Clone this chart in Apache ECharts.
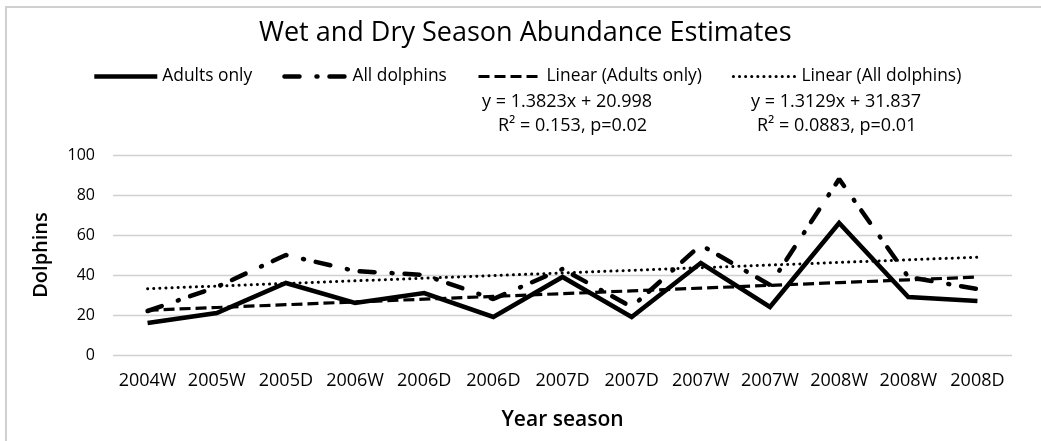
<!DOCTYPE html>
<html>
<head>
<meta charset="utf-8">
<script src="https://cdn.jsdelivr.net/npm/echarts@6/dist/echarts.min.js"></script>
<style>
  html, body { margin: 0; padding: 0; background: #fff; }
  #chart { width: 1041px; height: 441px; }
</style>
</head>
<body>
<div id="chart"></div>
<script>
// Survey periods (year + W = wet season, D = dry season)
const categories = ['2004W', '2005W', '2005D', '2006W', '2006D', '2006D', '2007D', '2007D', '2007W', '2007W', '2008W', '2008W', '2008D'];

// Abundance estimates per survey
const adultsOnly = [16, 21, 36, 26, 31, 19, 39, 19, 46, 24, 66, 29, 27];
const allDolphins = [22, 34, 50, 42, 40, 28, 43, 24, 55, 35, 88, 39, 33];

// Least-squares fits reported for each series (x = survey number, 1..13)
const fitAdults = { slope: 1.3823, intercept: 20.998, r2: '0.153', p: '0.02' };
const fitAll = { slope: 1.3129, intercept: 31.837, r2: '0.0883', p: '0.01' };

const yTicks = { min: 0, max: 100, interval: 20 };

const FONT = 'Open Sans';

// Line styles shared by the series and their legend entries
const styles = {
  adults: { color: '#000', width: 4.6, type: 'solid', join: 'miter' },
  all: { color: '#000', width: 4.5, type: [15, 17, 1, 12], cap: 'round' },
  linAdults: { color: '#000', width: 3.2, type: [11, 5] },
  linAll: { color: '#000', width: 3, type: [0.1, 6], cap: 'round' }
};

function trend(fit) {
  return categories.map((_, i) => +(fit.slope * (i + 1) + fit.intercept).toFixed(3));
}
function eqText(fit) {
  return 'y = ' + fit.slope + 'x + ' + fit.intercept.toFixed(3);
}
function r2Text(fit) {
  return 'R\u00B2 = ' + fit.r2 + ', p=' + fit.p;
}

const chart = echarts.init(document.getElementById('chart'), null, { renderer: 'canvas' });

const option = {
  backgroundColor: '#fff',
  animation: false,
  title: {
    text: 'Wet and Dry Season Abundance Estimates',
    left: 254,
    top: 15,
    textStyle: { fontFamily: FONT, fontSize: 27, fontWeight: 'normal', color: '#000' }
  },
  legend: {
    left: 87,
    top: 63,
    itemWidth: 63,
    itemHeight: 14,
    itemGap: 30,
    // hide the marker glyph so only the line pattern shows
    itemStyle: { color: 'rgba(0,0,0,0)', borderWidth: 0, opacity: 0 },
    textStyle: { fontFamily: FONT, fontSize: 17.4, color: '#000' },
    data: [
      { name: 'Adults only', lineStyle: styles.adults },
      { name: 'All dolphins', lineStyle: styles.all },
      { name: 'Linear (Adults only)', lineStyle: styles.linAdults },
      { name: 'Linear (All dolphins)', lineStyle: styles.linAll }
    ]
  },
  grid: { left: 113, right: 29, top: 155, bottom: 86, containLabel: false },
  xAxis: {
    type: 'category',
    data: categories,
    boundaryGap: true,
    axisLine: { show: false },
    axisTick: { show: false },
    axisLabel: { fontFamily: FONT, fontSize: 18, color: '#000', margin: 17, interval: 0 },
    name: 'Year season',
    nameLocation: 'middle',
    nameGap: 55,
    nameTextStyle: { fontFamily: FONT, fontSize: 21, fontWeight: 600, color: '#000' }
  },
  yAxis: {
    type: 'value',
    min: yTicks.min,
    max: yTicks.max,
    interval: yTicks.interval,
    axisLine: { show: false },
    axisTick: { show: false },
    splitLine: { lineStyle: { color: '#d0d0d0', width: 1.4 } },
    axisLabel: { fontFamily: FONT, fontSize: 16, color: '#000', margin: 18 },
    name: 'Dolphins',
    nameLocation: 'middle',
    nameGap: 62,
    nameRotate: 90,
    nameTextStyle: { fontFamily: FONT, fontSize: 20, fontWeight: 600, color: '#000' }
  },
  graphic: [
    // chart frame edge along top and left
    { type: 'rect', shape: { x: 6, y: 7, width: 1100, height: 500 }, style: { fill: 'none', stroke: '#d0d0d0', lineWidth: 2 }, silent: true },
    { type: 'text', left: 482, top: 93, style: { text: eqText(fitAdults), fontFamily: FONT, fontSize: 18, fill: '#000' } },
    { type: 'text', left: 498, top: 117, style: { text: r2Text(fitAdults), fontFamily: FONT, fontSize: 18, fill: '#000' } },
    { type: 'text', left: 751, top: 93, style: { text: eqText(fitAll), fontFamily: FONT, fontSize: 18, fill: '#000' } },
    { type: 'text', left: 757, top: 117, style: { text: r2Text(fitAll), fontFamily: FONT, fontSize: 18, fill: '#000' } }
  ],
  series: [
    {
      name: 'Adults only',
      type: 'line',
      data: adultsOnly,
      symbol: 'none',
      z: 5,
      lineStyle: styles.adults,
      itemStyle: { color: '#000' }
    },
    {
      name: 'All dolphins',
      type: 'line',
      data: allDolphins,
      symbol: 'none',
      z: 4,
      lineStyle: styles.all,
      itemStyle: { color: '#000' }
    },
    {
      name: 'Linear (Adults only)',
      type: 'line',
      data: trend(fitAdults),
      symbol: 'none',
      z: 3,
      lineStyle: styles.linAdults,
      itemStyle: { color: '#000' }
    },
    {
      name: 'Linear (All dolphins)',
      type: 'line',
      data: trend(fitAll),
      symbol: 'none',
      z: 3,
      lineStyle: styles.linAll,
      itemStyle: { color: '#000' }
    }
  ]
};

chart.setOption(option);
</script>
</body>
</html>
